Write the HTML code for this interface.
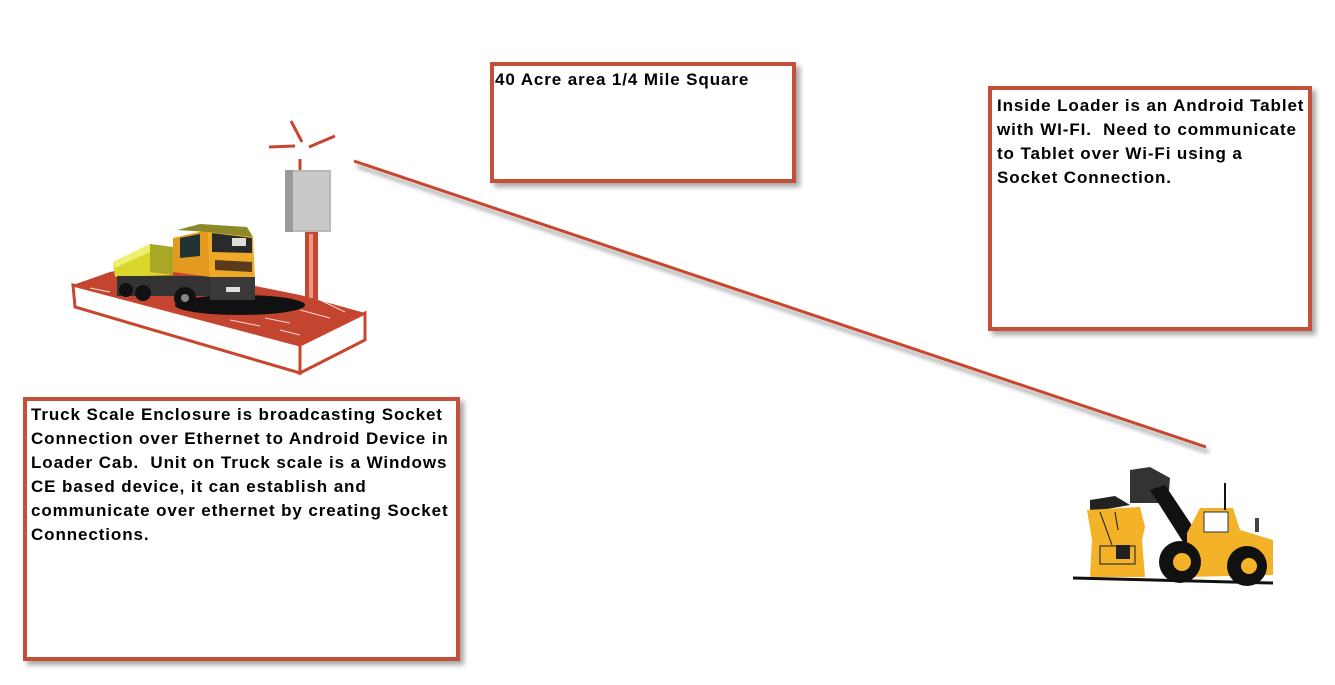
<!DOCTYPE html>
<html><head><meta charset="utf-8"><style>
html,body{margin:0;padding:0;background:#fff;}
body{width:1335px;height:685px;position:relative;overflow:hidden;font-family:"Liberation Sans",Arial,sans-serif;}
.box{position:absolute;box-sizing:border-box;border:4px solid #c4503b;background:#fff;box-shadow:4px 4px 5px rgba(0,0,0,0.35);font-weight:bold;font-size:17px;letter-spacing:0.9px;line-height:24px;color:#000;white-space:nowrap;}
svg{position:absolute;left:0;top:0;}
</style></head><body>
<svg width="1335" height="685" viewBox="0 0 1335 685">
  <defs>
    <filter id="sh" x="-20%" y="-20%" width="140%" height="140%"><feGaussianBlur stdDeviation="2"/></filter>
  </defs>
  <line x1="357" y1="166" x2="1209" y2="452" stroke="#999" stroke-width="3" filter="url(#sh)"/>
  <line x1="354" y1="161" x2="1206" y2="447" stroke="#c8462e" stroke-width="3"/>

  <g stroke="#c8462e" stroke-width="3" stroke-linecap="butt">
    <line x1="269" y1="147" x2="295" y2="146"/>
    <line x1="291" y1="121" x2="302" y2="142"/>
    <line x1="309" y1="147" x2="335" y2="136"/>
    <line x1="300" y1="159" x2="300" y2="172"/>
  </g>

  <polygon points="73,285 300,345 300,373 75,307" fill="#fff" stroke="#c8462e" stroke-width="3"/>
  <polygon points="300,345 365,313 365,340 300,373" fill="#fff" stroke="#c8462e" stroke-width="3"/>
  <polygon points="73,285 110,272 160,262 200,268 250,285 300,295 365,313 300,345" fill="#c4452f"/>
  <g stroke="#fff" stroke-width="1" opacity="0.8">
    <line x1="230" y1="320" x2="260" y2="326"/>
    <line x1="265" y1="318" x2="290" y2="323"/>
    <line x1="300" y1="310" x2="330" y2="318"/>
    <line x1="320" y1="300" x2="345" y2="312"/>
    <line x1="90" y1="288" x2="110" y2="292"/>
    <line x1="280" y1="330" x2="300" y2="335"/>
  </g>
  <ellipse cx="240" cy="305" rx="65" ry="10" fill="#111"/>

  <rect x="305" y="232" width="13" height="68" fill="#c8462e"/>
  <rect x="309" y="234" width="4" height="64" fill="#e69a88"/>
  <rect x="285" y="170" width="46" height="62" fill="#b8b8b8"/>
  <rect x="285" y="170" width="8" height="62" fill="#9a9a9a"/>
  <rect x="293" y="172" width="36" height="58" fill="#c9c9c9"/>

  <polygon points="113,262 150,244 173,247 173,275 115,277" fill="#d9d72c"/>
  <polygon points="150,244 173,247 173,275 150,272" fill="#a9a826"/>
  <polygon points="113,262 150,244 150,252 115,268" fill="#eeee70"/>
  <rect x="117" y="276" width="95" height="20" fill="#333"/>
  <polygon points="173,238 208,230 210,277 173,272" fill="#e39a1e"/>
  <polygon points="208,230 253,237 255,280 210,277" fill="#f0a828"/>
  <polygon points="177,230 200,224 247,227 253,237 208,232" fill="#8a8a2a"/>
  <polygon points="212,233 252,238 252,253 212,252" fill="#2a2a2a"/>
  <rect x="232" y="238" width="14" height="8" fill="#ddd"/>
  <polygon points="180,238 200,234 200,256 180,258" fill="#233"/>
  <polygon points="215,260 252,262 252,272 215,270" fill="#5a3a1a"/>
  <rect x="210" y="277" width="45" height="23" fill="#3a3a3a"/>
  <rect x="226" y="287" width="14" height="5" fill="#ddd"/>
  <circle cx="185" cy="298" r="11" fill="#111"/><circle cx="185" cy="298" r="4" fill="#888"/>
  <circle cx="143" cy="293" r="8" fill="#111"/>
  <circle cx="126" cy="290" r="7" fill="#111"/>

  <line x1="1073" y1="578" x2="1273" y2="583" stroke="#111" stroke-width="3"/>
  <polygon points="1090,500 1115,496 1130,505 1090,512" fill="#222"/>
  <polygon points="1087,510 1140,507 1145,527 1142,540 1145,577 1090,577 1092,540" fill="#f3b228"/>
  <g stroke="#333" stroke-width="1.2" fill="none">
    <line x1="1100" y1="512" x2="1112" y2="545"/>
    <line x1="1115" y1="512" x2="1118" y2="530"/>
    <rect x="1100" y="546" width="35" height="18"/>
  </g>
  <rect x="1116" y="545" width="14" height="14" fill="#222"/>
  <polygon points="1130,470 1150,467 1170,478 1168,503 1130,503" fill="#333"/>
  <polygon points="1150,490 1165,485 1195,530 1185,545" fill="#111"/>
  <polygon points="1187,533 1200,508 1233,508 1240,530 1273,540 1273,575 1187,577" fill="#f3b228"/>
  <rect x="1204" y="512" width="24" height="20" fill="#fff" stroke="#333" stroke-width="1"/>
  <line x1="1225" y1="483" x2="1225" y2="510" stroke="#111" stroke-width="2"/>
  <rect x="1255" y="518" width="4" height="14" fill="#444"/>
  <circle cx="1180" cy="562" r="21" fill="#111"/><circle cx="1182" cy="562" r="9" fill="#f3b228"/>
  <circle cx="1247" cy="566" r="20" fill="#111"/><circle cx="1249" cy="566" r="8" fill="#f3b228"/>
</svg>

<div class="box" style="left:23px;top:397px;width:437px;height:264px;padding:2px 0 0 4px;">Truck Scale Enclosure is broadcasting Socket<br>Connection over Ethernet to Android Device in<br>Loader Cab.&nbsp; Unit on Truck scale is a Windows<br>CE based device, it can establish and<br>communicate over ethernet by creating Socket<br>Connections.</div>

<div class="box" style="left:490px;top:62px;width:306px;height:121px;padding:2px 0 0 1px;">40 Acre area 1/4 Mile Square</div>

<div class="box" style="left:988px;top:86px;width:324px;height:245px;padding:4px 0 0 5px;">Inside Loader is an Android Tablet<br>with WI-FI.&nbsp; Need to communicate<br>to Tablet over Wi-Fi using a<br>Socket Connection.</div>
</body></html>
